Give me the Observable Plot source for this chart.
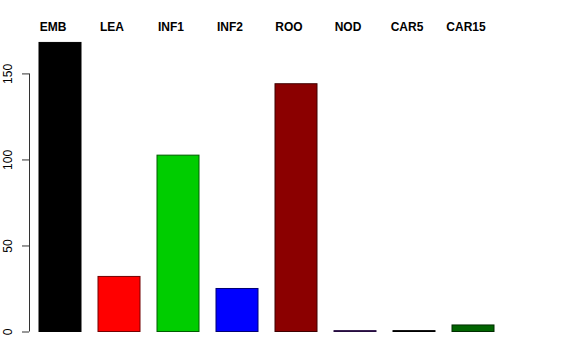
<!DOCTYPE html>
<html>
<head>
<meta charset="utf-8">
<script src="https://cdn.jsdelivr.net/npm/d3@7"></script>
<script src="https://cdn.jsdelivr.net/npm/@observablehq/plot@0.6"></script>
<style>
  html, body { margin: 0; padding: 0; background: #fff; }
  #chart svg { display: block; font-family: "Liberation Sans", Arial, sans-serif; }
</style>
</head>
<body>
<div id="chart"></div>
<script>
const categories = ["EMB", "LEA", "INF1", "INF2", "ROO", "NOD", "CAR5", "CAR15"];
const values = [168, 32, 102.5, 25, 144, 0.5, 0.5, 3.8];
const colors = ["#000000", "#FF0000", "#00CD00", "#0000FF", "#8B0000", "#551A8B", "#000000", "#006400"];
const yTicks = [0, 50, 100, 150];

const data = categories.map((c, i) => ({cat: c, value: values[i], color: colors[i]}));

const plot = Plot.plot({
  width: 576,
  height: 360,
  marginLeft: 38,
  marginRight: 82,
  marginTop: 39,
  marginBottom: 28.5,
  style: {fontFamily: "Liberation Sans, Arial, sans-serif", fontSize: "12px", background: "#fff"},
  x: {domain: categories, padding: 0.29, paddingOuter: 0, axis: null, label: null},
  y: {domain: [0, 170], axis: null, label: null},
  marks: [
    Plot.barY(data, {x: "cat", y: "value", fill: "color", stroke: d => d3.interpolateRgb(d.color, "#000")(0.55), strokeWidth: 1}),
    Plot.axisY(yTicks, {anchor: "left", label: null, tickSize: 7, dx: -9, tickRotate: -90, tickPadding: 11, tickFormat: d => String(d), fontSize: 12, stroke: "#333", color: "#000"}),
    Plot.text(categories, {x: d => d, text: d => d, frameAnchor: "top", lineAnchor: "bottom", dy: -9, dx: -7.5, fontWeight: "bold", fontSize: 12, fill: "#000"})
  ]
});

const y = plot.scale("y");
d3.select(plot).append("line")
  .attr("x1", 29.5).attr("x2", 29.5)
  .attr("y1", y.apply(0)).attr("y2", y.apply(150))
  .attr("stroke", "#333").attr("stroke-width", 1);

document.getElementById("chart").appendChild(plot);
</script>
</body>
</html>
